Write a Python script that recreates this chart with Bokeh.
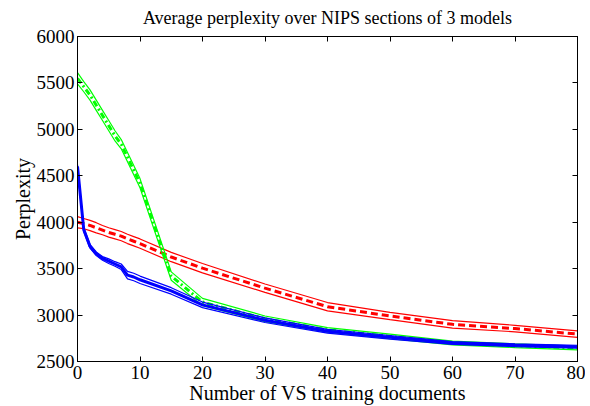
from bokeh.plotting import figure
from bokeh.models import LinearAxis, FixedTicker, CustomLabelingPolicy
from bokeh.embed import file_html
from bokeh.resources import INLINE

# Number of VS training documents
x_docs = [0, 1, 2, 3, 4, 5, 6, 7, 8, 9, 10, 15, 20, 30, 40, 50, 60, 70, 80]

# green model (dash-dot mean with solid bounds)
green_mean = [5550, 5460, 5370, 5260, 5150, 5040, 4930, 4840, 4700, 4560, 4420,
              3420, 3140, 2960, 2840, 2770, 2700, 2670, 2645]
green_err = [60, 55, 55, 55, 55, 55, 55, 50, 50, 50, 50, 45, 40, 30, 25, 25, 20, 20, 20]

# red model (dashed mean with solid bounds)
red_mean = [4000, 3985, 3965, 3940, 3915, 3890, 3870, 3850, 3820, 3795, 3770,
            3625, 3505, 3290, 3090, 2990, 2900, 2855, 2795]
red_err = [60, 55, 55, 55, 50, 50, 50, 50, 50, 50, 50, 50, 50, 45, 45, 40, 40, 35, 35]

# blue model (solid mean with solid bounds)
blue_mean = [4600, 3920, 3740, 3660, 3610, 3580, 3550, 3520, 3430, 3410, 3380,
             3260, 3110, 2945, 2825, 2760, 2700, 2675, 2660]
blue_err = [20, 20, 20, 20, 20, 25, 25, 30, 40, 40, 40, 35, 30, 25, 20, 20, 15, 15, 15]

x_ticks = [0, 10, 20, 30, 40, 50, 60, 70, 80]
y_ticks = [2500, 3000, 3500, 4000, 4500, 5000, 5500, 6000]

FONT = "Liberation Serif"

p = figure(frame_width=500, frame_height=325, x_range=(0, 80), y_range=(2500, 6000),
           output_backend="svg", toolbar_location=None,
           title="Average perplexity over NIPS sections of 3 models")
p.min_border_left = 77
p.min_border_right = 8
p.min_border_top = 36
p.min_border_bottom = 42

p.title.text_font = FONT
p.title.text_font_size = "18px"
p.title.text_font_style = "normal"
p.title.align = "center"
p.title.text_color = "black"

p.xgrid.visible = False
p.ygrid.visible = False
p.outline_line_color = "black"
p.outline_line_width = 1

no_labels = CustomLabelingPolicy(code="return new indices.constructor(indices.size, 0)")

def style_axis(ax, labels=True):
    ax.major_tick_in = 5
    ax.major_tick_out = 0
    ax.minor_tick_in = 0
    ax.minor_tick_out = 0
    ax.axis_line_color = "black"
    ax.major_tick_line_color = "black"
    ax.major_label_text_font = FONT
    ax.major_label_text_color = "black"
    ax.axis_label_text_font = FONT
    ax.axis_label_text_font_style = "normal"
    ax.axis_label_text_color = "black"
    if labels:
        ax.major_label_text_font_size = "19px"
        ax.axis_label_text_font_size = "20px"
    else:
        ax.major_label_text_font_size = "1px"
        ax.major_label_policy = no_labels
        ax.major_label_standoff = 0

p.xaxis.ticker = FixedTicker(ticks=x_ticks)
p.yaxis.ticker = FixedTicker(ticks=y_ticks)
p.xaxis.axis_label = "Number of VS training documents"
p.yaxis.axis_label = "Perplexity"
style_axis(p.xaxis[0])
style_axis(p.yaxis[0])
p.xaxis.major_label_standoff = 4
p.yaxis.major_label_standoff = 3
p.xaxis.axis_label_standoff = 0
p.yaxis.axis_label_standoff = 0

top_ax = LinearAxis(ticker=FixedTicker(ticks=x_ticks))
style_axis(top_ax, labels=False)
p.add_layout(top_ax, "above")
right_ax = LinearAxis(ticker=FixedTicker(ticks=y_ticks))
style_axis(right_ax, labels=False)
p.add_layout(right_ax, "right")

def draw(mean, err, color, dash):
    up = [m + e for m, e in zip(mean, err)]
    lo = [m - e for m, e in zip(mean, err)]
    p.line(x_docs, up, line_color=color, line_width=1.2)
    p.line(x_docs, lo, line_color=color, line_width=1.2)
    p.line(x_docs, mean, line_color=color, line_width=3, line_dash=dash)

draw(red_mean, red_err, "#ff0000", "7 4")
draw(green_mean, green_err, "#00ff00", "6 3 2 3")
draw(blue_mean, blue_err, "#0000ff", "solid")

open("out.html", "w").write(file_html(p, INLINE))
